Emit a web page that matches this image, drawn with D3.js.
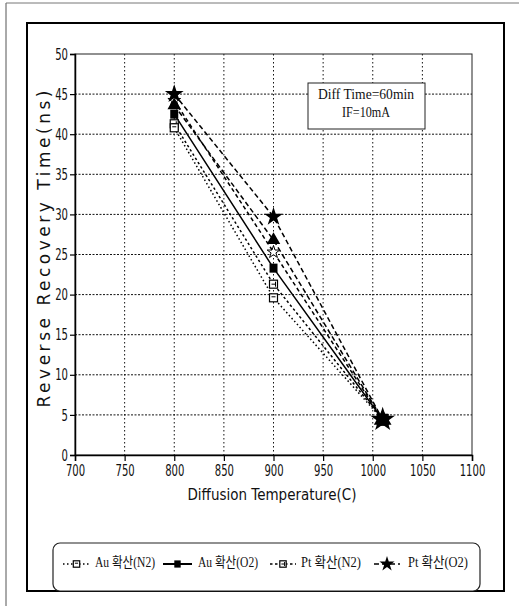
<!DOCTYPE html>
<html>
<head>
<meta charset="utf-8">
<script src="https://cdn.jsdelivr.net/npm/d3@7"></script>
<style>
  html, body { margin: 0; padding: 0; background: #fff; }
  svg { display: block; }
</style>
</head>
<body>
<svg id="chart" width="519" height="606"></svg>
<script>
// ---- data ----
const temps = [800, 900, 1010];
const auN2 = [40.8, 19.6, 4.4];
const auO2 = [42.5, 23.3, 4.4];
const ptN2 = [41.3, 21.3, 4.4];
const ptO2 = [45.0, 29.7, 4.4];
const extraA = [43.6, 26.8, 4.4];
const extraB = [44.2, 25.3, 4.4];
const seriesNames = ["Au 확산(N2)", "Au 확산(O2)", "Pt 확산(N2)", "Pt 확산(O2)"];
const xTicks = [700, 750, 800, 850, 900, 950, 1000, 1050, 1100];
const yTicks = [0, 5, 10, 15, 20, 25, 30, 35, 40, 45, 50];
const xTitle = "Diffusion Temperature(C)";
const yTitle = "Reverse Recovery Time(ns)";
const noteLines = ["Diff Time=60min", "IF=10mA"];

const svg = d3.select("#chart");
const x = d3.scaleLinear().domain([700, 1100]).range([75, 472]);
const y = d3.scaleLinear().domain([0, 50]).range([455, 54]);

// outer faint frame
svg.append("line").attr("x1", 6).attr("y1", 3).attr("x2", 6).attr("y2", 606)
  .attr("stroke", "#555").attr("stroke-width", 1);
svg.append("line").attr("x1", 6).attr("y1", 3).attr("x2", 519).attr("y2", 3)
  .attr("stroke", "#777").attr("stroke-width", 1);
// inner thick frame
svg.append("rect").attr("x", 27).attr("y", 23).attr("width", 477).attr("height", 568)
  .attr("fill", "none").attr("stroke", "#000").attr("stroke-width", 2);

// grid
const grid = svg.append("g");
grid.selectAll(".vg").data(xTicks.slice(1, -1)).join("line")
  .attr("x1", d => x(d)).attr("x2", d => x(d)).attr("y1", y(50)).attr("y2", y(0))
  .attr("stroke", "#111").attr("stroke-width", 1).attr("stroke-dasharray", "1.5,2.5");
grid.selectAll(".hg").data(yTicks.slice(1, -1)).join("line")
  .attr("x1", x(700)).attr("x2", x(1100)).attr("y1", d => y(d)).attr("y2", d => y(d))
  .attr("stroke", "#111").attr("stroke-width", 1).attr("stroke-dasharray", "2,1.5");

// plot border
svg.append("rect").attr("x", x(700)).attr("y", y(50))
  .attr("width", x(1100) - x(700)).attr("height", y(0) - y(50))
  .attr("fill", "none").attr("stroke", "#222").attr("stroke-width", 1);

// axes
const xAxis = svg.append("g").attr("transform", `translate(0,${y(0)})`)
  .call(d3.axisBottom(x).tickValues(xTicks).tickSize(6).tickPadding(4).tickFormat(d3.format("d")));
const yAxis = svg.append("g").attr("transform", `translate(${x(700)},0)`)
  .call(d3.axisLeft(y).tickValues(yTicks).tickSize(5).tickPadding(2).tickFormat(d3.format("d")));
[xAxis, yAxis].forEach(a => {
  a.select(".domain").attr("stroke", "#000").attr("stroke-width", 1.5);
  a.selectAll(".tick line").attr("stroke", "#000").attr("stroke-width", 1.2);
  a.selectAll("text").attr("fill", "#111")
    .style("font-family", "'DejaVu Sans', sans-serif")
    .style("font-size", "16px")
    .attr("textLength", function () { return this.textContent.length * 6.4; })
    .attr("lengthAdjust", "spacingAndGlyphs");
});

// titles
svg.append("text").attr("x", 272).attr("y", 495)
  .attr("text-anchor", "middle").attr("dominant-baseline", "middle")
  .attr("textLength", 169).attr("lengthAdjust", "spacingAndGlyphs")
  .style("font-family", "'DejaVu Sans', sans-serif").style("font-size", "15px").attr("fill", "#111")
  .text(xTitle);
svg.append("text").attr("transform", "translate(45,249) rotate(-90)")
  .attr("text-anchor", "middle").attr("dominant-baseline", "middle")
  .attr("textLength", 317).attr("lengthAdjust", "spacing")
  .style("font-family", "'DejaVu Sans', sans-serif").style("font-size", "17px").attr("fill", "#111")
  .text(yTitle);

// note box
svg.append("rect").attr("x", 308).attr("y", 83).attr("width", 117).attr("height", 46)
  .attr("fill", "#fff").attr("stroke", "#222").attr("stroke-width", 1);
svg.append("text").attr("x", 366).attr("y", 96).attr("text-anchor", "middle")
  .attr("dominant-baseline", "middle").attr("textLength", 96).attr("lengthAdjust", "spacingAndGlyphs")
  .style("font-family", "'Liberation Serif', serif").style("font-size", "14px").attr("fill", "#111")
  .text(noteLines[0]);
svg.append("text").attr("x", 366).attr("y", 114).attr("text-anchor", "middle")
  .attr("dominant-baseline", "middle").attr("textLength", 48).attr("lengthAdjust", "spacingAndGlyphs")
  .style("font-family", "'Liberation Serif', serif").style("font-size", "14px").attr("fill", "#111")
  .text(noteLines[1]);

// series styles
const series = [
  { vals: auN2, dash: "1.5,2.5", mark: "openSquare", legend: 0 },
  { vals: auO2, dash: null, mark: "filledSquare", legend: 1 },
  { vals: ptN2, dash: "2.5,2.5", mark: "tickSquare", legend: 2 },
  { vals: ptO2, dash: "5,3", mark: "star", legend: 3 },
  { vals: extraA, dash: "5,3", mark: "triangle", legend: -1 },
  { vals: extraB, dash: "4,3", mark: "openStar", legend: -1 }
];

function drawMarker(g, type, cx, cy, scale) {
  const s = scale || 1;
  if (type === "openSquare") {
    g.append("rect").attr("x", cx - 4 * s).attr("y", cy - 4 * s).attr("width", 8 * s).attr("height", 8 * s)
      .attr("fill", "#fff").attr("stroke", "#000").attr("stroke-width", 1.2);
    g.append("path").attr("d", `M${cx - 2 * s},${cy - 1 * s}h${4 * s}`).attr("stroke", "#000").attr("stroke-width", 1);
  } else if (type === "filledSquare") {
    g.append("rect").attr("x", cx - 4 * s).attr("y", cy - 4.5 * s).attr("width", 8 * s).attr("height", 9 * s)
      .attr("fill", "#000");
  } else if (type === "tickSquare") {
    g.append("rect").attr("x", cx - 4 * s).attr("y", cy - 4 * s).attr("width", 8 * s).attr("height", 8 * s)
      .attr("fill", "#fff").attr("stroke", "#000").attr("stroke-width", 1.2);
    g.append("path").attr("d", `M${cx + 2 * s},${cy - 2.5 * s}v${5 * s}M${cx - 2 * s},${cy}h${4 * s}`)
      .attr("stroke", "#000").attr("stroke-width", 1);
  } else if (type === "star") {
    g.append("path").attr("d", d3.symbol(d3.symbolStar, 110 * s * s)())
      .attr("transform", `translate(${cx},${cy})`).attr("fill", "#000");
  } else if (type === "triangle") {
    g.append("path").attr("d", d3.symbol(d3.symbolTriangle, 80 * s * s)())
      .attr("transform", `translate(${cx},${cy})`).attr("fill", "#000");
  } else if (type === "openStar") {
    g.append("path").attr("d", d3.symbol(d3.symbolStar, 50 * s * s)())
      .attr("transform", `translate(${cx},${cy})`).attr("fill", "#fff").attr("stroke", "#000").attr("stroke-width", 1);
  }
}

const line = d3.line().x((d, i) => x(temps[i])).y(d => y(d));
const plot = svg.append("g");
series.forEach(s => {
  plot.append("path").datum(s.vals).attr("d", line)
    .attr("fill", "none").attr("stroke", "#000").attr("stroke-width", 1.5)
    .attr("stroke-dasharray", s.dash);
});
// markers: at 800/900 lower series on top; at 1010 the big star on top
temps.forEach((t, i) => {
  const order = i === 2 ? [0, 2, 5, 1, 4, 3] : [5, 4, 3, 2, 1, 0];
  order.forEach(k => {
    const s = series[k];
    drawMarker(plot, s.mark, x(t), y(s.vals[i]), i === 2 ? 1.3 : 1);
  });
});

// legend
svg.append("rect").attr("x", 53).attr("y", 543).attr("width", 427).attr("height", 48)
  .attr("rx", 7).attr("ry", 7).attr("fill", "#fff").attr("stroke", "#222").attr("stroke-width", 1.2);
const legPos = [
  { x1: 63, x2: 90, tx: 95 },
  { x1: 163, x2: 192, tx: 198 },
  { x1: 270, x2: 296, tx: 301 },
  { x1: 374, x2: 400, tx: 408 }
];
const legY = 564;
series.filter(s => s.legend >= 0).forEach(s => {
  const p = legPos[s.legend];
  svg.append("line").attr("x1", p.x1).attr("x2", p.x2).attr("y1", legY).attr("y2", legY)
    .attr("stroke", "#000").attr("stroke-width", s.legend === 1 ? 2 : 1.5).attr("stroke-dasharray", s.dash);
  drawMarker(svg, s.mark, (p.x1 + p.x2) / 2, legY, 0.8);
  svg.append("text").attr("x", p.tx).attr("y", legY).attr("dominant-baseline", "middle")
    .attr("textLength", 60).attr("lengthAdjust", "spacingAndGlyphs")
    .style("font-family", "'Liberation Serif', 'Noto Sans CJK KR', serif").style("font-size", "14px")
    .attr("fill", "#111").text(seriesNames[s.legend]);
});
</script>
</body>
</html>
